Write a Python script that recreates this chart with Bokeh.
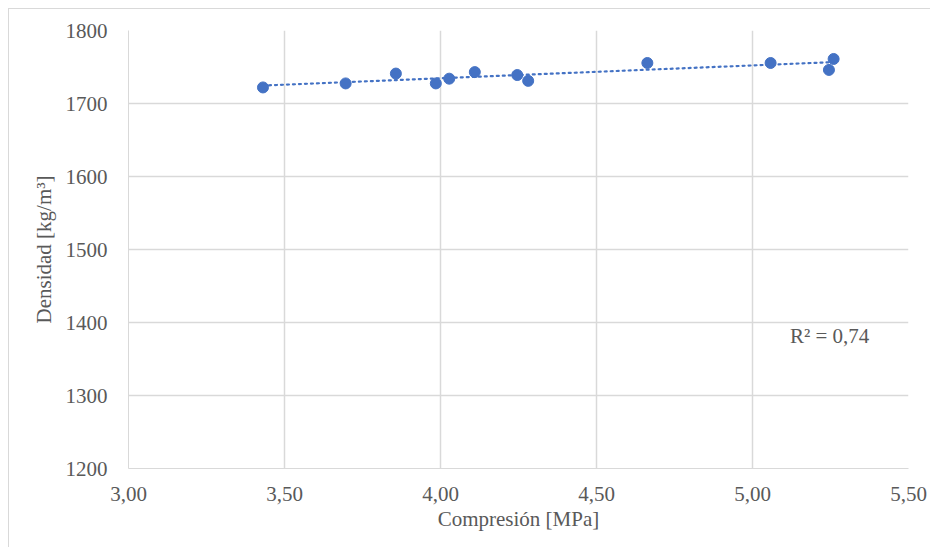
import numpy as np
from bokeh.plotting import figure
from bokeh.models import Range1d, Label, FixedTicker, CustomJSTickFormatter
from bokeh.embed import file_html
from bokeh.resources import INLINE

compresion = [3.431, 3.696, 3.857, 3.985, 4.028, 4.110, 4.246, 4.281, 4.663, 5.058, 5.245, 5.260]
densidad = [1722, 1727.5, 1741, 1727.5, 1734, 1743, 1739, 1731, 1755.5, 1755.5, 1746, 1761]
x_ticks = [3.0, 3.5, 4.0, 4.5, 5.0, 5.5]
y_ticks = [1200, 1300, 1400, 1500, 1600, 1700, 1800]
r2_text = "R² = 0,74"

FONT = "Liberation Serif"
GRID = "#d9d9d9"
TXT = "#595959"
BLUE = "#4472C4"

p = figure(width=922, height=539, output_backend="svg", toolbar_location=None,
           x_range=Range1d(3.0, 5.5), y_range=Range1d(1200, 1800),
           min_border_left=119, min_border_right=23, min_border_top=21, min_border_bottom=80)
p.styles = {"margin": "8px 0 0 8px", "border-left": "1px solid #d9d9d9",
            "border-top": "1px solid #d9d9d9"}
p.outline_line_color = None
p.background_fill_color = "white"
p.border_fill_color = "white"

p.xaxis.ticker = FixedTicker(ticks=x_ticks)
p.yaxis.ticker = FixedTicker(ticks=y_ticks)
p.xaxis.formatter = CustomJSTickFormatter(code="return tick.toFixed(2).replace('.', ',');")
for ax in (p.xaxis, p.yaxis):
    ax.axis_line_color = GRID
    ax.major_tick_line_color = None
    ax.minor_tick_line_color = None
    ax.major_label_text_font = FONT
    ax.major_label_text_font_size = "21px"
    ax.major_label_text_color = TXT
    ax.axis_label_text_font = FONT
    ax.axis_label_text_font_size = "21px"
    ax.axis_label_text_color = TXT
    ax.axis_label_text_font_style = "normal"
p.xaxis.axis_label = "Compresión [MPa]"
p.yaxis.axis_label = "Densidad [kg/m³]"
p.xaxis.major_label_standoff = 12
p.yaxis.major_label_standoff = 15
p.xaxis.axis_label_standoff = 3
p.yaxis.axis_label_standoff = 7

p.xgrid.grid_line_color = GRID
p.ygrid.grid_line_color = GRID
p.xgrid.grid_line_width = 1.5
p.ygrid.grid_line_width = 1.5

# linear trendline fitted from the data
xs = np.array(compresion)
ys = np.array(densidad)
m, b = np.polyfit(xs, ys, 1)
tx = [xs.min(), xs.max()]
ty = [m * tx[0] + b, m * tx[1] + b]
p.line(tx, ty, line_color=BLUE, line_width=2.2, line_dash="2 4", line_cap="round")

p.scatter(compresion, densidad, size=11, fill_color=BLUE, line_color=BLUE)

p.add_layout(Label(x=5.12, y=1381, text=r2_text, text_font=FONT, text_font_size="21px",
                   text_color=TXT, text_baseline="middle"))

open("out.html", "w").write(file_html(p, INLINE))
